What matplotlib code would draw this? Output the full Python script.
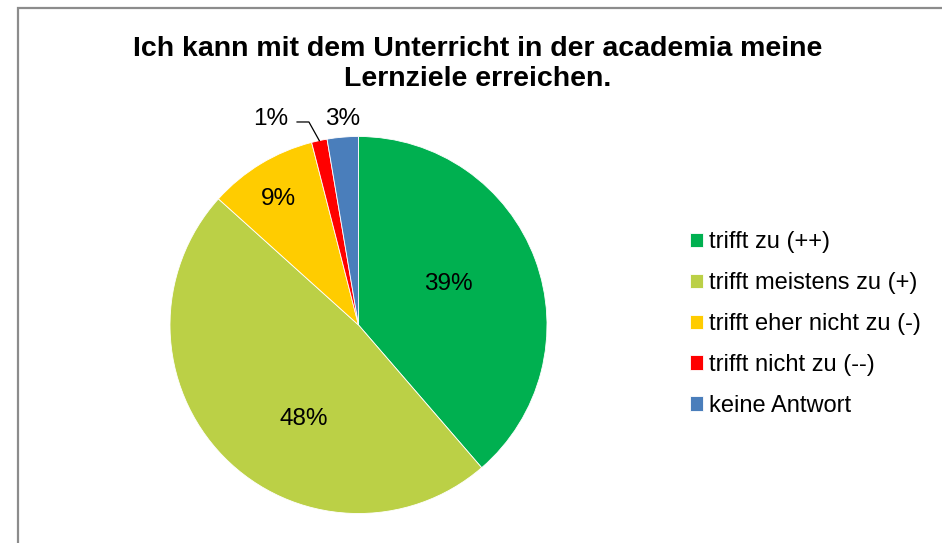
import numpy as np
import matplotlib.pyplot as plt
from matplotlib.patches import Rectangle

plt.rcParams['font.family'] = ['Liberation Sans', 'DejaVu Sans']

# answers (counts), in clockwise order from 12 o'clock
categories = ['trifft zu (++)', 'trifft meistens zu (+)', 'trifft eher nicht zu (-)',
              'trifft nicht zu (--)', 'keine Antwort']
counts = [29, 36, 7, 1, 2]
colors = ['#00B050', '#BBD046', '#FFCC00', '#FF0000', '#4A7EBB']

# label placement: radius and angle shift (deg) relative to wedge middle
label_r = [0.53, 0.57, 0.80, 1.196, 1.104]
label_shift = [5, 15, 1, 10.8, -0.4]

W, H = 942, 543
fig = plt.figure(figsize=(W / 100, H / 100), dpi=100)

# outer chart frame (right and bottom edges are cut off)
fig.patches.append(Rectangle((17.5 / W, -0.1), 1.2, 1.1 - 8.5 / H, transform=fig.transFigure,
                             fill=False, edgecolor='#8c8c8c', linewidth=1.6))

ax = fig.add_axes([170 / W, (H - 513.5) / H, 377 / W, 377 / H])
wedges, _ = ax.pie(counts, colors=colors, startangle=90, counterclock=False, radius=1,
                   wedgeprops=dict(edgecolor='white', linewidth=0.6))
ax.set_xlim(-1, 1)
ax.set_ylim(-1, 1)

total = sum(counts)
for w, c, r, s in zip(wedges, counts, label_r, label_shift):
    mid = np.deg2rad((w.theta1 + w.theta2) / 2 + s)
    ax.text(r * np.cos(mid), r * np.sin(mid) - 0.01, f"{round(100 * c / total)}%",
            ha='center', va='center', fontsize=17.5, clip_on=False)

# leader line for the small red slice
w = wedges[3]
m = np.deg2rad((w.theta1 + w.theta2) / 2)
ax.plot([-0.326, -0.263, np.cos(m)], [1.077, 1.077, np.sin(m)], color='black',
        linewidth=0.9, clip_on=False)

# baseline of the last title line
fig.text(478 / W, 1 - 86 / H, 'Ich kann mit dem Unterricht in der academia meine\nLernziele erreichen.',
         ha='center', va='baseline', fontsize=20.5, fontweight='bold', linespacing=1.22,
         multialignment='center')

fig.legend(wedges, categories, loc='center left', bbox_to_anchor=(690 / W, 1 - 324 / H),
           frameon=False, fontsize=17, handlelength=0.55, handleheight=0.55,
           handletextpad=0.25, labelspacing=0.8, borderpad=0, borderaxespad=0)

fig.savefig('out.png', dpi=100)
